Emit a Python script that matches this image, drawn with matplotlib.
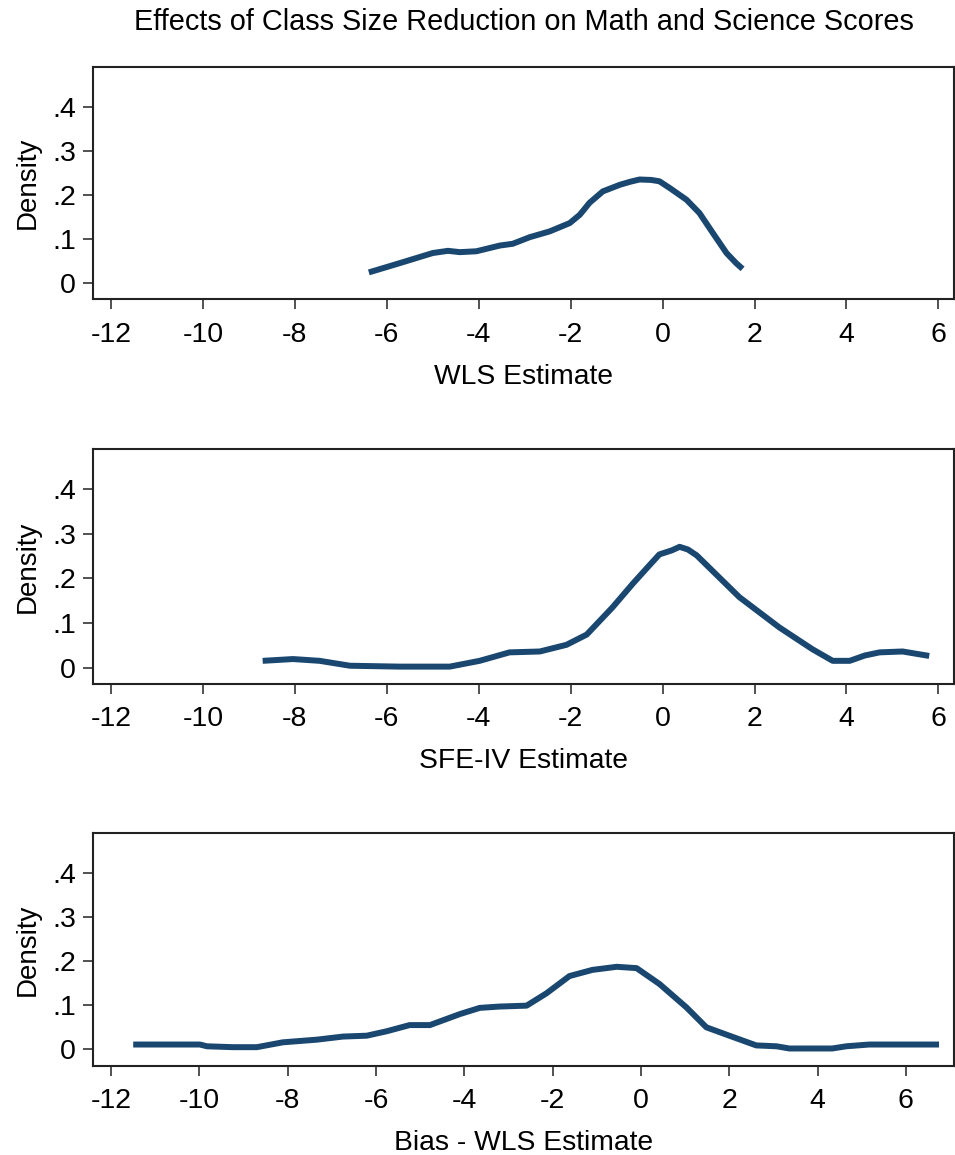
import numpy as np
import matplotlib
matplotlib.use("Agg")
import matplotlib.pyplot as plt

plt.rcParams['font.family'] = ['Liberation Sans', 'DejaVu Sans']

title = "Effects of Class Size Reduction on Math and Science Scores"
xlabels = ["WLS Estimate", "SFE-IV Estimate", "Bias - WLS Estimate"]

# kernel density curves
wls_x = [-6.39, -5.72, -5.0, -4.67, -4.41, -4.05, -3.54, -3.26, -2.89, -2.46, -2.02, -1.80,
         -1.59, -1.30, -0.93, -0.70, -0.50, -0.25, -0.07, 0.15, 0.52, 0.80, 1.09, 1.39, 1.60, 1.74]
wls_y = [0.024, 0.045, 0.068, 0.073, 0.070, 0.072, 0.085, 0.089, 0.104, 0.117, 0.136, 0.155,
         0.182, 0.208, 0.223, 0.230, 0.235, 0.234, 0.231, 0.216, 0.189, 0.159, 0.114, 0.068, 0.045, 0.032]

sfe_x = [-8.70, -8.04, -7.46, -6.80, -5.72, -4.63, -3.98, -3.33, -2.67, -2.09, -1.65, -1.09,
         -0.65, -0.30, -0.07, 0.20, 0.37, 0.55, 0.74, 1.67, 2.54, 3.26, 3.70, 4.07, 4.40, 4.72,
         5.22, 5.80]
sfe_y = [0.015, 0.019, 0.015, 0.004, 0.002, 0.002, 0.015, 0.034, 0.036, 0.051, 0.074, 0.135,
         0.188, 0.228, 0.254, 0.263, 0.271, 0.265, 0.252, 0.158, 0.090, 0.041, 0.015, 0.015,
         0.027, 0.034, 0.036, 0.026]

bias_x = [-11.50, -9.99, -9.83, -9.24, -8.70, -8.11, -7.34, -6.75, -6.21, -5.76, -5.24, -4.78,
          -4.10, -3.65, -3.20, -2.59, -2.14, -1.62, -1.10, -0.55, -0.10, 0.42, 1.03, 1.48,
          2.00, 2.61, 3.07, 3.36, 4.33, 4.65, 5.17, 6.75]
bias_y = [0.011, 0.011, 0.007, 0.005, 0.005, 0.016, 0.022, 0.029, 0.031, 0.041, 0.055, 0.055,
          0.080, 0.094, 0.097, 0.099, 0.127, 0.166, 0.180, 0.187, 0.184, 0.148, 0.095, 0.050,
          0.031, 0.009, 0.007, 0.002, 0.002, 0.007, 0.011, 0.011]

series = [(wls_x, wls_y), (sfe_x, sfe_y), (bias_x, bias_y)]
xlims = [(-12.39, 6.34), (-12.39, 6.34), (-12.41, 7.09)]
xticks = [-12, -10, -8, -6, -4, -2, 0, 2, 4, 6]
yticks = [0, 0.1, 0.2, 0.3, 0.4]
ytick_labels = ["0", ".1", ".2", ".3", ".4"]

fig = plt.figure(figsize=(9.55, 11.55), dpi=100)
boxes = [[0.0974, 0.7409, 0.9016, 0.2009],
         [0.0974, 0.4078, 0.9016, 0.2032],
         [0.0974, 0.0773, 0.9016, 0.2015]]

for i in range(3):
    ax = fig.add_axes(boxes[i])
    x, y = series[i]
    ax.plot(x, y, color='#1a476f', lw=4.3, solid_capstyle='butt')
    ax.set_xlim(*xlims[i])
    ax.set_ylim(-0.037, 0.49)
    ax.set_xticks(xticks)
    ax.set_xticklabels([str(t) for t in xticks])
    ax.set_yticks(yticks)
    ax.set_yticklabels(ytick_labels)
    ax.tick_params(labelsize=20.5, length=7.2, width=1.2, color='#333333')
    ax.tick_params(axis='x', pad=9)
    ax.tick_params(axis='y', pad=5)
    ax.set_ylabel("Density", fontsize=20, labelpad=8)
    ax.set_xlabel(xlabels[i], fontsize=20.3, labelpad=11.5)
    for s in ax.spines.values():
        s.set_linewidth(1.5)
        s.set_color('#222222')
    if i == 0:
        ax.set_title(title, fontsize=20.8, pad=27)

fig.savefig("out.png", dpi=100)
